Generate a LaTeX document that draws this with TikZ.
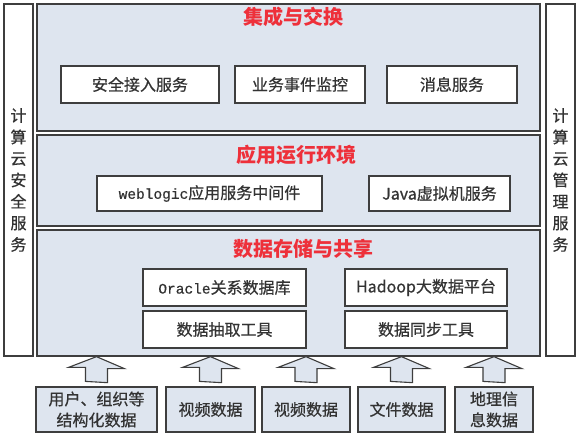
\documentclass[tikz,border=0pt]{standalone}
\usepackage{fontspec}
\setmainfont{Noto Sans CJK SC}
\newfontfamily\medfnt[FakeBold=0.6]{Noto Sans CJK SC}
\newfontfamily\monofnt[FakeBold=0.6]{Liberation Mono}
\usetikzlibrary{calc}
\definecolor{layerbg}{RGB}{222,229,239}
\definecolor{titlered}{RGB}{238,48,58}
\definecolor{edge}{RGB}{62,62,62}

\begin{document}
\begin{tikzpicture}[x=1pt,y=-1pt,
	layer/.style={draw=edge,line width=1.3pt,fill=layerbg,minimum width=503pt,inner sep=0pt},
	side/.style={draw=edge,line width=1.3pt,fill=white,minimum width=29pt,minimum height=352pt,inner sep=0pt,align=center,font=\medfnt\fontsize{16}{21.5}\selectfont,text=black!80},
	ltitle/.style={text=titlered,font=\fontsize{20}{22}\selectfont\bfseries},
	box/.style={draw=edge,line width=1.2pt,fill=white,inner sep=0pt,font=\medfnt\fontsize{16}{18}\selectfont,text=black!80},
	src/.style={box,fill=layerbg,minimum height=45pt,align=center,font=\medfnt\fontsize{16}{21}\selectfont},
	arr/.style={draw=edge,line width=1.1pt,fill=layerbg,line join=miter}]
			\useasboundingbox (0,0) rectangle (579,437);
			% Các tầng
			\node[layer,minimum height=127pt] (jc) at (288.5,67.5) {};
			\node[layer,minimum height=91pt] (yy) at (288.5,180.5) {};
			\node[layer,minimum height=126pt] (ds) at (288.5,293) {};
			\node[ltitle] (tjc) at (293,17) {集成与交换};
			\node[ltitle] (tyy) at (296,155) {应用运行环境};
			\node[ltitle] (tds) at (303,249) {数据存储与共享};
			% Hai cột bên
			\node[side] (aqfw) at (18.5,180) {计\\算\\云\\安\\全\\服\\务};
			\node[side] (glfw) at (560.5,180) {计\\算\\云\\管\\理\\服\\务};
			% Các ô trong tầng
			\node[box,minimum width=158pt,minimum height=37pt] (jr) at (140,84.5) {安全接入服务};
			\node[box,minimum width=130pt,minimum height=37pt] (jk) at (300,84.5) {业务事件监控};
			\node[box,minimum width=130pt,minimum height=37pt] (xx) at (452,84.5) {消息服务};
			\node[box,minimum width=225pt,minimum height=35pt] (wl) at (209.5,193.5) {{\monofnt\fontsize{14.5}{16}\selectfont weblogic}应用服务中间件};
			\node[box,minimum width=141pt,minimum height=35pt] (jv) at (439.5,193.5) {Java虚拟机服务};
			\node[box,minimum width=163pt,minimum height=37pt] (orc) at (224.5,287.5) {{\monofnt\fontsize{14.5}{16}\selectfont Oracle}关系数据库};
			\node[box,minimum width=162pt,minimum height=37pt] (hdp) at (426,287.5) {Hadoop大数据平台};
			\node[box,minimum width=163pt,minimum height=37pt] (cq) at (224.5,329.5) {数据抽取工具};
			\node[box,minimum width=162pt,minimum height=37pt] (tb) at (426,329.5) {数据同步工具};
			% Nguồn dữ liệu
			\node[src,minimum width=121pt] (s1) at (96.5,409.5) {用户、组织等\\结构化数据};
			\node[src,minimum width=89pt] (s2) at (210.5,409.5) {视频数据};
			\node[src,minimum width=88pt] (s3) at (306,409.5) {视频数据};
			\node[src,minimum width=87pt] (s4) at (401.5,409.5) {文件数据};
			\node[src,minimum width=78pt] (s5) at (494,409.5) {地理信\\息数据};
			% Mũi tên
			\foreach \s in {s1,s2,s3,s4,s5}
			\draw[arr] (\s.north) ++(-11,-5) -- ++(0,-14) -- ++(-17,0) -- (\s.north |- ds.south) -- ++(28,12) -- ++(-17,0) -- ++(0,14) -- cycle;
		\end{tikzpicture}
\end{document}
